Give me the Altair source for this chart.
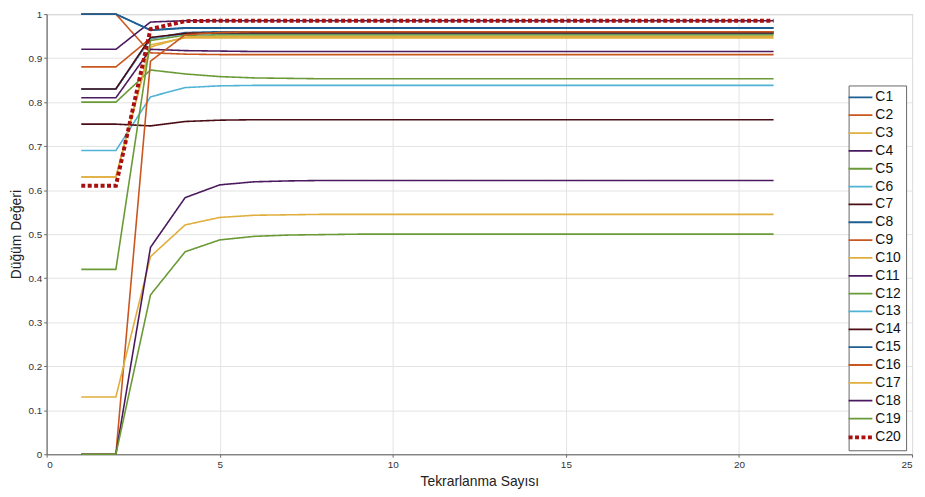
import altair as alt
import pandas as pd

iterations = list(range(1, 22))
series_names = [f"C{i}" for i in range(1, 21)]

C1 = [1.0, 1.0, 0.964, 0.969, 0.969, 0.969, 0.969, 0.969, 0.969, 0.969, 0.969, 0.969, 0.969, 0.969, 0.969, 0.969, 0.969, 0.969, 0.969, 0.969, 0.969]
C2 = [1.0, 1.0, 0.912, 0.909, 0.908, 0.908, 0.908, 0.908, 0.908, 0.908, 0.908, 0.908, 0.908, 0.908, 0.908, 0.908, 0.908, 0.908, 0.908, 0.908, 0.908]
C3 = [0.63, 0.63, 0.93, 0.946, 0.946, 0.946, 0.946, 0.946, 0.946, 0.946, 0.946, 0.946, 0.946, 0.946, 0.946, 0.946, 0.946, 0.946, 0.946, 0.946, 0.946]
C4 = [0.92, 0.92, 0.982, 0.985, 0.985, 0.985, 0.985, 0.985, 0.985, 0.985, 0.985, 0.985, 0.985, 0.985, 0.985, 0.985, 0.985, 0.985, 0.985, 0.985, 0.985]
C5 = [0.80, 0.80, 0.873, 0.864, 0.858, 0.855, 0.854, 0.853, 0.853, 0.853, 0.853, 0.853, 0.853, 0.853, 0.853, 0.853, 0.853, 0.853, 0.853, 0.853, 0.853]
C6 = [0.69, 0.69, 0.812, 0.833, 0.837, 0.838, 0.838, 0.838, 0.838, 0.838, 0.838, 0.838, 0.838, 0.838, 0.838, 0.838, 0.838, 0.838, 0.838, 0.838, 0.838]
C7 = [0.75, 0.75, 0.746, 0.756, 0.759, 0.760, 0.760, 0.760, 0.760, 0.760, 0.760, 0.760, 0.760, 0.760, 0.760, 0.760, 0.760, 0.760, 0.760, 0.760, 0.760]
C8 = [0.83, 0.83, 0.944, 0.958, 0.960, 0.960, 0.960, 0.960, 0.960, 0.960, 0.960, 0.960, 0.960, 0.960, 0.960, 0.960, 0.960, 0.960, 0.960, 0.960, 0.960]
C9 = [0.88, 0.88, 0.945, 0.956, 0.958, 0.958, 0.958, 0.958, 0.958, 0.958, 0.958, 0.958, 0.958, 0.958, 0.958, 0.958, 0.958, 0.958, 0.958, 0.958, 0.958]
C10 = [0.63, 0.63, 0.925, 0.948, 0.950, 0.950, 0.950, 0.950, 0.950, 0.950, 0.950, 0.950, 0.950, 0.950, 0.950, 0.950, 0.950, 0.950, 0.950, 0.950, 0.950]
C11 = [0.81, 0.81, 0.920, 0.917, 0.916, 0.915, 0.915, 0.915, 0.915, 0.915, 0.915, 0.915, 0.915, 0.915, 0.915, 0.915, 0.915, 0.915, 0.915, 0.915, 0.915]
C12 = [0.42, 0.42, 0.940, 0.952, 0.953, 0.953, 0.953, 0.953, 0.953, 0.953, 0.953, 0.953, 0.953, 0.953, 0.953, 0.953, 0.953, 0.953, 0.953, 0.953, 0.953]
C13 = [0.83, 0.83, 0.945, 0.955, 0.956, 0.956, 0.956, 0.956, 0.956, 0.956, 0.956, 0.956, 0.956, 0.956, 0.956, 0.956, 0.956, 0.956, 0.956, 0.956, 0.956]
C14 = [0.83, 0.83, 0.947, 0.956, 0.957, 0.957, 0.957, 0.957, 0.957, 0.957, 0.957, 0.957, 0.957, 0.957, 0.957, 0.957, 0.957, 0.957, 0.957, 0.957, 0.957]
C15 = [1.0, 1.0, 0.963, 0.968, 0.968, 0.968, 0.968, 0.968, 0.968, 0.968, 0.968, 0.968, 0.968, 0.968, 0.968, 0.968, 0.968, 0.968, 0.968, 0.968, 0.968]
C16 = [0.0, 0.0, 0.893, 0.953, 0.958, 0.960, 0.960, 0.960, 0.960, 0.960, 0.960, 0.960, 0.960, 0.960, 0.960, 0.960, 0.960, 0.960, 0.960, 0.960, 0.960]
C17 = [0.13, 0.13, 0.449, 0.521, 0.538, 0.543, 0.544, 0.545, 0.545, 0.545, 0.545, 0.545, 0.545, 0.545, 0.545, 0.545, 0.545, 0.545, 0.545, 0.545, 0.545]
C18 = [0.0, 0.0, 0.470, 0.583, 0.612, 0.619, 0.621, 0.622, 0.622, 0.622, 0.622, 0.622, 0.622, 0.622, 0.622, 0.622, 0.622, 0.622, 0.622, 0.622, 0.622]
C19 = [0.0, 0.0, 0.362, 0.460, 0.487, 0.495, 0.498, 0.499, 0.500, 0.500, 0.500, 0.500, 0.500, 0.500, 0.500, 0.500, 0.500, 0.500, 0.500, 0.500, 0.500]
C20 = [0.61, 0.61, 0.966, 0.984, 0.985, 0.985, 0.985, 0.985, 0.985, 0.985, 0.985, 0.985, 0.985, 0.985, 0.985, 0.985, 0.985, 0.985, 0.985, 0.985, 0.985]

all_values = [C1, C2, C3, C4, C5, C6, C7, C8, C9, C10,
              C11, C12, C13, C14, C15, C16, C17, C18, C19, C20]

blue, orange, yellow, purple = "#1d5f93", "#c8561e", "#e0ae3c", "#4b1a5e"
green, cyan, maroon, red = "#6a9a36", "#4fb3d6", "#4a0d16", "#a80f0f"
colors = [blue, orange, yellow, purple, green, cyan, maroon,
          blue, orange, yellow, purple, green, cyan, maroon,
          blue, orange, yellow, purple, green, red]
dashes = [[1, 0]] * 19 + [[4, 2.5]]

rows = []
for name, vals in zip(series_names, all_values):
    for it, v in zip(iterations, vals):
        rows.append({"iter": it, "val": v, "series": name})
df = pd.DataFrame(rows)

FONT = "Liberation Sans"

legend = alt.Legend(
    title=None,
    symbolStrokeWidth=alt.ExprRef("datum.value === 'C20' ? 4 : 1.8"),
    labelExpr="datum.label + '\u00a0\u00a0\u00a0'",
)

base = alt.Chart(df).mark_line(strokeCap="butt", strokeJoin="miter").encode(
    x=alt.X("iter:Q", scale=alt.Scale(domain=[0, 25], nice=False),
            axis=alt.Axis(values=[0, 5, 10, 15, 20, 25], title="Tekrarlanma Sayısı",
                          titlePadding=6)),
    y=alt.Y("val:Q", scale=alt.Scale(domain=[0, 1], nice=False),
            axis=alt.Axis(values=[0, 0.1, 0.2, 0.3, 0.4, 0.5, 0.6, 0.7, 0.8, 0.9, 1],
                          format="~g", title="Düğüm Değeri", titlePadding=4)),
    color=alt.Color("series:N", scale=alt.Scale(domain=series_names, range=colors),
                    legend=legend),
    strokeDash=alt.StrokeDash("series:N", scale=alt.Scale(domain=series_names, range=dashes),
                              legend=legend),
    strokeWidth=alt.condition(alt.datum.series == "C20", alt.value(4), alt.value(1.6)),
    detail="series:N",
)

lines_main = base.transform_filter(alt.datum.series != "C20")
lines_top = base.transform_filter(alt.datum.series == "C20")

chart = alt.layer(lines_main, lines_top).properties(
    width=873, height=444,
    autosize=alt.AutoSizeParams(type="none"),
    padding={"left": 39, "top": 4, "right": 5, "bottom": 41},
).configure_view(
    stroke="#7a7a7a", strokeWidth=1
).configure_axis(
    gridColor="#e3e3e3", gridWidth=1,
    domainColor="#6a6a6a", tickColor="#6a6a6a", tickSize=3,
    labelFont=FONT, labelFontSize=10, labelColor="#333333",
    titleFont=FONT, titleFontSize=14, titleFontWeight="normal", titleColor="#222222",
).configure_legend(
    orient="none", legendX=809, legendY=72,
    fillColor="white", strokeColor="#666666", padding=5,
    symbolType="M-1,0L1,0", symbolSize=576, labelFont=FONT, labelFontSize=14,
    labelColor="#111111", rowPadding=4, labelOffset=8,
)

chart.save("out.html", embed_options={"renderer": "svg", "actions": False})
